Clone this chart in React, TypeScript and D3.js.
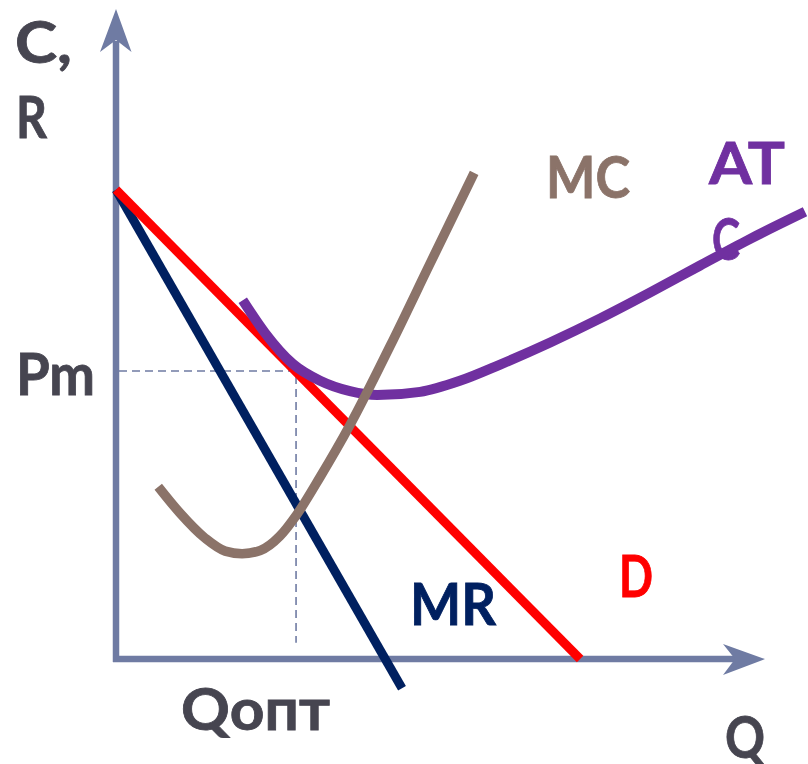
import React from "react";
import * as d3 from "d3";

// Data in chart units (Q on x, C/R on y)
const demand: [number, number][] = [[0, 72.2], [71.4, 0]];
const marginalRevenue: [number, number][] = [[0, 72.2], [44.0, -4.5]];
const marginalCost: [number, number][] = [
  [6.5, 26.5], [9.8, 22.5], [13.7, 18.6], [16.8, 16.6], [19.4, 16.2],
  [22.2, 16.7], [25.2, 18.9], [27.8, 22.2], [31.4, 28.0], [36.0, 36.0],
  [42.2, 48.2], [48.3, 60.8], [55.1, 74.8],
];
const averageTotalCost: [number, number][] = [
  [19.5, 55.2], [22.9, 50.2], [27.2, 45.4], [31.4, 42.8], [36.0, 41.2],
  [40.2, 40.6], [46.8, 41.1], [52.9, 42.8], [59.1, 45.3], [66.8, 48.7],
  [74.5, 52.4], [82.2, 56.4], [89.8, 60.5], [97.5, 64.6], [106.0, 68.8],
];
const pm = 44.3;
const qOpt = 27.7;
const dashBottom = 2.5;
const axisMaxX = 100;
const axisMaxY = 100;

const W = 808;
const H = 764;

export default function App() {
  React.useEffect(() => {
    document.body.style.margin = "0";
  }, []);

  const x = d3.scaleLinear().domain([0, 100]).range([116, 766]);
  const y = d3.scaleLinear().domain([0, 100]).range([659, 9]);

  const straight = d3.line<[number, number]>().x((d) => x(d[0])).y((d) => y(d[1]));
  const smooth = d3
    .line<[number, number]>()
    .x((d) => x(d[0]))
    .y((d) => y(d[1]))
    .curve(d3.curveMonotoneX);

  const axisColor = "#6F7BA3";
  const textColor = "#464550";
  const x0 = x(0);
  const y0 = y(0);
  const yTop = y(axisMaxY);
  const xRight = x(axisMaxX) - 1;

  const font = "Lato, 'Open Sans', 'DejaVu Sans', sans-serif";
  const fs = 57;

  const label = (
    t: string,
    px: number,
    py: number,
    w: number,
    color: string
  ) => (
    <text
      x={px}
      y={py}
      fill={color}
      fontFamily={font}
      fontWeight={700}
      fontSize={fs}
      textLength={w}
      lengthAdjust="spacingAndGlyphs"
      stroke={color}
      strokeWidth={0.8}
    >
      {t}
    </text>
  );

  return (
    <svg
      width={W}
      height={H}
      style={{ display: "block", position: "absolute", left: 0, top: 0 }}
    >
      <rect width={W} height={H} fill="#fff" />
      {/* axes */}
      <line x1={x0} y1={y0 + 3} x2={x0} y2={yTop + 32} stroke={axisColor} strokeWidth={6.5} />
      <line x1={x0 - 3} y1={y0} x2={xRight - 30} y2={y0} stroke={axisColor} strokeWidth={6.5} />
      <path
        d={`M${x0},${yTop} L${x0 + 15.5},${yTop + 43} L${x0},${yTop + 31} L${x0 - 16},${yTop + 43} Z`}
        fill={axisColor}
      />
      <path
        d={`M${xRight},${y0} L${xRight - 42},${y0 + 16} L${xRight - 30},${y0} L${xRight - 42},${y0 - 15} Z`}
        fill={axisColor}
      />
      {/* dashed guides */}
      <path
        d={`M${x0 + 3},${y(pm)} L${x(qOpt)},${y(pm)} L${x(qOpt)},${y(dashBottom)}`}
        fill="none"
        stroke={axisColor}
        strokeWidth={1.6}
        strokeDasharray="8 5"
      />
      {/* curves */}
      <path d={straight(marginalRevenue) || ""} fill="none" stroke="#002060" strokeWidth={9} />
      <path d={straight(demand) || ""} fill="none" stroke="#FF0000" strokeWidth={9} />
      {label("C", 712, 260, 28, "#7030A0")}
      <path d={smooth(averageTotalCost) || ""} fill="none" stroke="#7030A0" strokeWidth={10} />
      <path d={smooth(marginalCost) || ""} fill="none" stroke="#8B7369" strokeWidth={9.5} />
      {/* labels */}
      {label("C,", 15, 63, 57, textColor)}
      {label("R", 16, 138, 31, textColor)}
      {label("Pm", 16, 395, 79, textColor)}
      {label("Qопт", 181, 730, 149, textColor)}
      {label("Q", 725, 758, 40, textColor)}
      {label("MC", 546, 198, 84, "#8B7369")}
      {label("AT", 709, 184, 76, "#7030A0")}
      {label("D", 619, 597, 34, "#FF0000")}
      {label("MR", 410, 625, 86, "#002060")}
    </svg>
  );
}
